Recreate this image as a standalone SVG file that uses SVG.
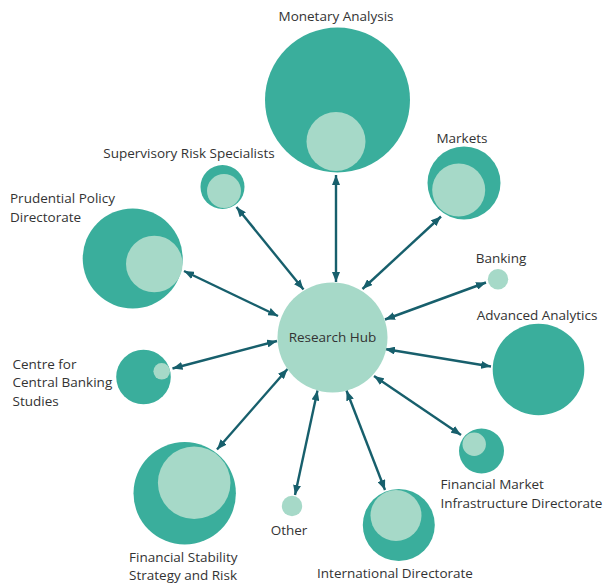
<svg xmlns="http://www.w3.org/2000/svg" width="603" height="585" viewBox="0 0 603 585">
  <style>
    .outer { fill: #3aae9c; }
    .inner { fill: #a6d9c8; }
    .lbl { font-family: "Open Sans", "Noto Sans", sans-serif; font-size: 13.5px; fill: #333333; }
    .mid { text-anchor: middle; }
    .link { stroke: #175f6c; stroke-width: 2.4; fill: none; marker-start: url(#tip); marker-end: url(#tip); }
  </style>
  <defs>
    <marker id="tip" markerUnits="userSpaceOnUse" viewBox="0 0 10 8" refX="10" refY="4" markerWidth="10" markerHeight="8" orient="auto-start-reverse">
      <path d="M0,0 L10,4 L0,8 Z" fill="#175f6c"/>
    </marker>
  </defs>
  <rect width="603" height="585" fill="#ffffff"/>

  <!-- connectors between the hub and each area -->
  <g id="connectors">
    <line class="link" x1="336" y1="175" x2="336" y2="282"/>
    <line class="link" x1="236.5" y1="207" x2="303.5" y2="289.5"/>
    <line class="link" x1="184" y1="271" x2="278" y2="316"/>
    <line class="link" x1="172.5" y1="368.5" x2="277" y2="341"/>
    <line class="link" x1="217" y1="449.5" x2="287.5" y2="369"/>
    <line class="link" x1="295" y1="495" x2="317.5" y2="390.5"/>
    <line class="link" x1="385" y1="490" x2="346.5" y2="390.5"/>
    <line class="link" x1="461" y1="435" x2="374" y2="376"/>
    <line class="link" x1="491" y1="366.5" x2="385" y2="349"/>
    <line class="link" x1="486" y1="282.5" x2="385" y2="319.5"/>
    <line class="link" x1="441" y1="216.5" x2="362.5" y2="289"/>
  </g>

  <g id="research-hub">
    <circle class="inner" cx="332.5" cy="337.5" r="55"/>
    <text class="lbl mid" x="332.5" y="342">Research Hub</text>
  </g>

  <g id="monetary-analysis">
    <circle class="outer" cx="337.5" cy="100" r="72.5"/>
    <circle class="inner" cx="336" cy="141.5" r="29.5"/>
    <text class="lbl mid" x="336" y="21">Monetary Analysis</text>
  </g>

  <g id="supervisory-risk-specialists">
    <circle class="outer" cx="222.5" cy="187" r="22"/>
    <circle class="inner" cx="224" cy="191" r="17"/>
    <text class="lbl mid" x="189" y="158">Supervisory Risk Specialists</text>
  </g>

  <g id="prudential-policy-directorate">
    <circle class="outer" cx="132.7" cy="258.5" r="50"/>
    <circle class="inner" cx="154.3" cy="264" r="28.3"/>
    <text class="lbl" x="10" y="203">Prudential Policy</text>
    <text class="lbl" x="10" y="222">Directorate</text>
  </g>

  <g id="markets">
    <circle class="outer" cx="464" cy="183" r="36.5"/>
    <circle class="inner" cx="458.7" cy="190" r="26.5"/>
    <text class="lbl mid" x="462" y="143">Markets</text>
  </g>

  <g id="banking">
    <circle class="inner" cx="498" cy="279.3" r="10.2"/>
    <text class="lbl mid" x="501" y="263">Banking</text>
  </g>

  <g id="advanced-analytics">
    <circle class="outer" cx="538.5" cy="369.5" r="45.8"/>
    <text class="lbl mid" x="537" y="320">Advanced Analytics</text>
  </g>

  <g id="financial-market-infrastructure-directorate">
    <circle class="outer" cx="481.5" cy="451" r="22.5"/>
    <circle class="inner" cx="474.2" cy="444.2" r="11.7"/>
    <text class="lbl" x="440.5" y="489">Financial Market</text>
    <text class="lbl" x="440.5" y="508">Infrastructure Directorate</text>
  </g>

  <g id="international-directorate">
    <circle class="outer" cx="398.8" cy="525" r="36"/>
    <circle class="inner" cx="396" cy="515.5" r="25.5"/>
    <text class="lbl mid" x="395" y="578">International Directorate</text>
  </g>

  <g id="other">
    <circle class="inner" cx="292" cy="506" r="10.2"/>
    <text class="lbl mid" x="289" y="535">Other</text>
  </g>

  <g id="financial-stability-strategy-and-risk">
    <circle class="outer" cx="184.7" cy="493.3" r="51.2"/>
    <circle class="inner" cx="194.2" cy="482.8" r="36.3"/>
    <text class="lbl" x="129" y="562">Financial Stability</text>
    <text class="lbl" x="129" y="580">Strategy and Risk</text>
  </g>

  <g id="centre-for-central-banking-studies">
    <circle class="outer" cx="143.5" cy="377" r="27.3"/>
    <circle class="inner" cx="161.7" cy="371.3" r="8.3"/>
    <text class="lbl" x="12.5" y="368.5">Centre for</text>
    <text class="lbl" x="12.5" y="387">Central Banking</text>
    <text class="lbl" x="12.5" y="405.5">Studies</text>
  </g>
</svg>
